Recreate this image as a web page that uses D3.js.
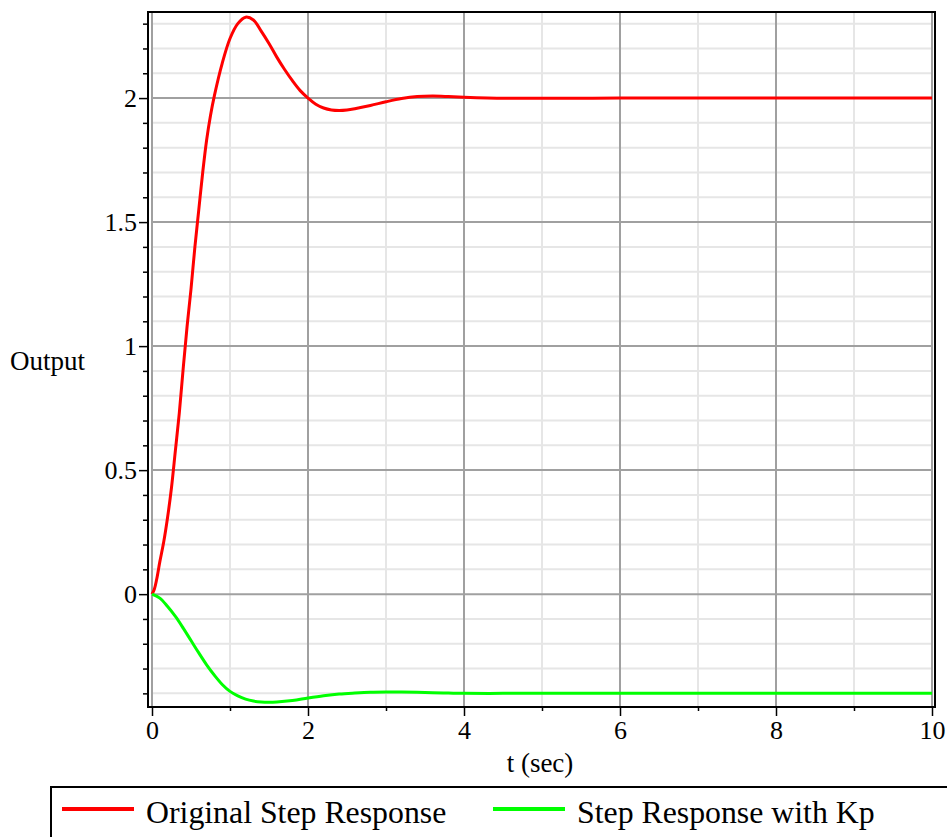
<!DOCTYPE html>
<html>
<head>
<meta charset="utf-8">
<script src="https://cdn.jsdelivr.net/npm/d3@7"></script>
<style>
  body { margin: 0; background: #fff; }
  svg { display: block; font-family: "Liberation Serif", "Times New Roman", serif; }
</style>
</head>
<body>
<svg id="chart" width="947" height="837"></svg>
<script>
// data (t in seconds, output)
const timeRed = [0, 0.03, 0.06, 0.1, 0.15, 0.2, 0.25, 0.3, 0.35, 0.4, 0.45, 0.5, 0.55, 0.6, 0.65, 0.7, 0.75, 0.8, 0.9, 1.0, 1.1, 1.2, 1.3, 1.4, 1.5, 1.6, 1.7, 1.8, 1.9, 2.0, 2.1, 2.2, 2.3, 2.4, 2.5, 2.6, 2.8, 3.0, 3.2, 3.4, 3.6, 3.8, 4.0, 4.3, 4.6, 5, 6, 7, 8, 9, 10];
const originalStep = [0, 0.02, 0.06, 0.13, 0.21, 0.31, 0.43, 0.58, 0.73, 0.91, 1.08, 1.23, 1.4, 1.55, 1.7, 1.83, 1.93, 2.01, 2.14, 2.24, 2.3, 2.326, 2.315, 2.27, 2.22, 2.165, 2.115, 2.07, 2.03, 2.0, 1.975, 1.96, 1.952, 1.95, 1.952, 1.957, 1.97, 1.985, 1.998, 2.006, 2.008, 2.006, 2.003, 2.0, 1.999, 1.999, 2, 2, 2, 2, 2];

const timeGreen = [0, 0.1, 0.2, 0.3, 0.4, 0.5, 0.6, 0.7, 0.8, 0.9, 1.0, 1.1, 1.2, 1.3, 1.4, 1.5, 1.6, 1.8, 2.0, 2.2, 2.4, 2.6, 2.8, 3.0, 3.2, 3.4, 3.6, 3.8, 4.0, 4.5, 5, 6, 7, 8, 9, 10];
const stepWithKp = [0, -0.016, -0.05, -0.09, -0.137, -0.187, -0.237, -0.285, -0.327, -0.364, -0.392, -0.41, -0.423, -0.431, -0.435, -0.436, -0.435, -0.429, -0.419, -0.41, -0.403, -0.399, -0.396, -0.395, -0.395, -0.396, -0.398, -0.399, -0.4, -0.4, -0.4, -0.4, -0.4, -0.4, -0.4, -0.4];

const xMajor = [0, 2, 4, 6, 8, 10];
const xMinor = [1, 3, 5, 7, 9];
const xTickLabels = ["0", "2", "4", "6", "8", "10"];
const yMajor = [0, 0.5, 1, 1.5, 2];
const yTickLabels = ["0", "0.5", "1", "1.5", "2"];
const yMinor = [-0.4, -0.3, -0.2, -0.1, 0.1, 0.2, 0.3, 0.4, 0.6, 0.7, 0.8, 0.9, 1.1, 1.2, 1.3, 1.4, 1.6, 1.7, 1.8, 1.9, 2.1, 2.2, 2.3];

const seriesNames = ["Original Step Response", "Step Response with Kp"];
const seriesColors = ["#ff0000", "#00ff00"];

const svg = d3.select("#chart");
const frame = { left: 148, right: 935, top: 12, bottom: 707 };

const x = d3.scaleLinear().domain([0, 10]).range([152, 932]);
const y = d3.scaleLinear().domain([-0.455, 2.347]).range([frame.bottom, frame.top]);

// * grid, minor first so the major lines sit on top
const grid = svg.append("g");
grid.selectAll(".vminor").data(xMinor).join("line")
  .attr("x1", d => x(d)).attr("x2", d => x(d))
  .attr("y1", frame.top).attr("y2", frame.bottom)
  .attr("stroke", "#e6e6e6").attr("stroke-width", 2);
grid.selectAll(".hminor").data(yMinor).join("line")
  .attr("x1", x(0)).attr("x2", x(10))
  .attr("y1", d => y(d)).attr("y2", d => y(d))
  .attr("stroke", "#e6e6e6").attr("stroke-width", 2);
grid.selectAll(".vmajor").data(xMajor).join("line")
  .attr("x1", d => x(d)).attr("x2", d => x(d))
  .attr("y1", frame.top).attr("y2", frame.bottom)
  .attr("stroke", "#a0a0a0").attr("stroke-width", 2);
grid.selectAll(".hmajor").data(yMajor).join("line")
  .attr("x1", x(0)).attr("x2", x(10))
  .attr("y1", d => y(d)).attr("y2", d => y(d))
  .attr("stroke", "#a0a0a0").attr("stroke-width", 2);

// * axes
const styleAxis = (g) => {
  g.select(".domain").remove();
  g.selectAll("line").attr("stroke", "#000").attr("stroke-width", 1.5);
  g.selectAll("text").attr("fill", "#000").attr("font-size", 26).attr("font-family", "Liberation Serif, serif");
};

svg.append("g")
  .attr("transform", `translate(${frame.left},0)`)
  .call(d3.axisLeft(y).tickValues(yMinor).tickSize(5).tickFormat(""))
  .call(styleAxis);
svg.append("g")
  .attr("transform", `translate(${frame.left},0)`)
  .call(d3.axisLeft(y).tickValues(yMajor).tickSize(9).tickPadding(2).tickFormat((d, i) => yTickLabels[i]))
  .call(styleAxis);

svg.append("g")
  .attr("transform", `translate(0,${frame.bottom})`)
  .call(d3.axisBottom(x).tickValues(xMinor).tickSize(4).tickFormat(""))
  .call(styleAxis);
svg.append("g")
  .attr("transform", `translate(0,${frame.bottom})`)
  .call(d3.axisBottom(x).tickValues(xMajor).tickSize(9).tickPadding(5).tickFormat((d, i) => xTickLabels[i]))
  .call(styleAxis);

// frame box
svg.append("rect")
  .attr("x", frame.left).attr("y", frame.top)
  .attr("width", frame.right - frame.left).attr("height", frame.bottom - frame.top)
  .attr("fill", "none").attr("stroke", "#000").attr("stroke-width", 2);

// * curves
const line = d3.line().x(d => x(d[0])).y(d => y(d[1])).curve(d3.curveCatmullRom.alpha(0.5));
const series = [d3.zip(timeRed, originalStep), d3.zip(timeGreen, stepWithKp)];

svg.selectAll(".curve").data(series).join("path")
  .attr("class", "curve")
  .attr("d", line)
  .attr("fill", "none")
  .attr("stroke", (d, i) => seriesColors[i])
  .attr("stroke-width", 3)
  .attr("stroke-linejoin", "round");

// * axis titles
svg.append("text")
  .attr("x", 10).attr("y", 370)
  .attr("font-size", 27)
  .text("Output");
svg.append("text")
  .attr("x", 540).attr("y", 772)
  .attr("font-size", 27)
  .attr("text-anchor", "middle")
  .text("t (sec)");

// * legend, box runs off the page
const legend = svg.append("g");
legend.append("rect")
  .attr("x", 51).attr("y", 787)
  .attr("width", 940).attr("height", 100)
  .attr("fill", "none").attr("stroke", "#000").attr("stroke-width", 2);

const legendX = [62, 493];
const items = legend.selectAll(".item").data(seriesNames).join("g")
  .attr("transform", (d, i) => `translate(${legendX[i]},809)`);
items.append("line")
  .attr("x1", 0).attr("x2", 72)
  .attr("stroke", (d, i) => seriesColors[i])
  .attr("stroke-width", 4);
items.append("text")
  .attr("x", 84).attr("y", 14)
  .attr("font-size", 31.8)
  .text(d => d);
</script>
</body>
</html>
